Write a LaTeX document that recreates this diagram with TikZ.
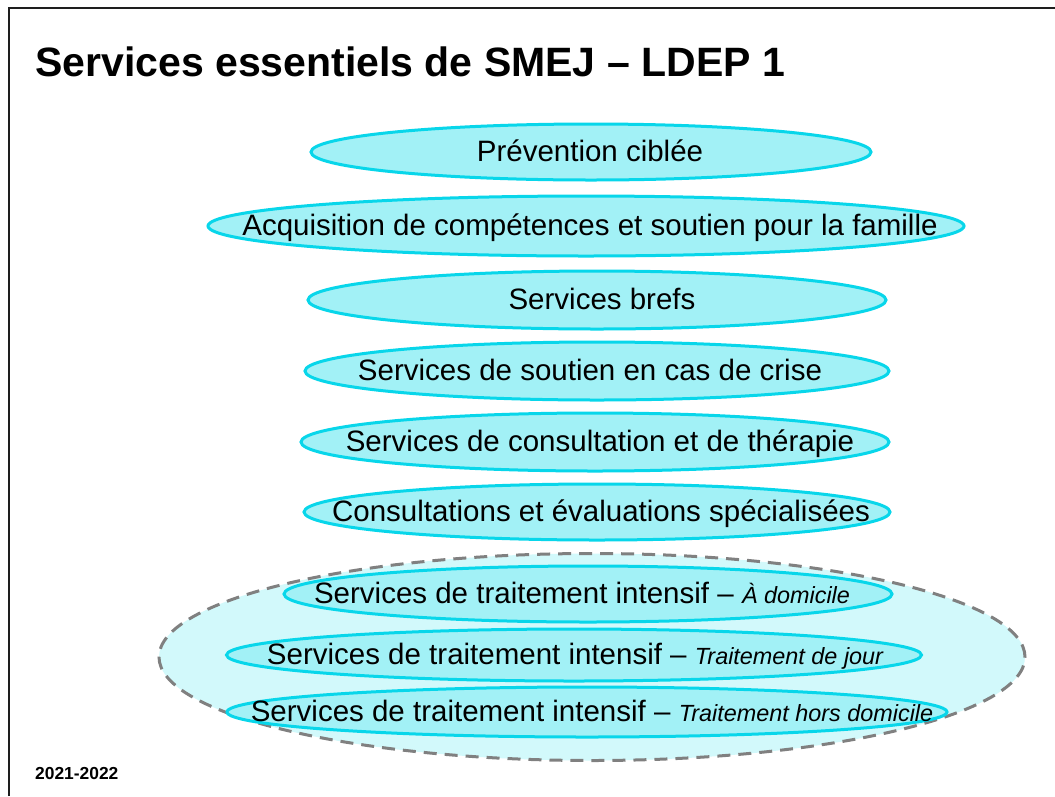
\documentclass[tikz,border=0pt]{standalone}
\usepackage{fontspec}
\setmainfont{Liberation Sans}
\usetikzlibrary{shapes.geometric}
\definecolor{cyanfill}{RGB}{162,241,246}
\definecolor{cyanline}{RGB}{8,214,234}
\definecolor{groupfill}{RGB}{210,249,251}
\definecolor{groupline}{RGB}{128,128,128}
\definecolor{frameline}{RGB}{30,30,30}
\tikzset{
  svc/.style={ellipse, draw=cyanline, fill=cyanfill, line width=3pt, inner sep=0pt},
  lbl/.style={inner sep=0pt, text height=22pt, text depth=3pt,
    font=\fontsize{29.5}{34}\selectfont},
  grp/.style={ellipse, draw=groupline, fill=groupfill, line width=3pt, dash pattern=on 13pt off 8pt, inner sep=0pt},
}
\newcommand{\subtxt}[1]{{\fontsize{23.4}{28}\selectfont\itshape #1}}
\begin{document}
\begin{tikzpicture}[x=1pt,y=-1pt]
\useasboundingbox (0,0) rectangle (1055,796);
\fill[white] (0,0) rectangle (1055,796);
% frame (cut off at right and bottom)
\coordinate (fa) at (8.5,796);
\coordinate (fb) at (8.5,7.5);
\coordinate (fc) at (1055,7.5);
\draw[frameline, line width=2pt] (fa) -- (fb) -- (fc);
% title
\node[anchor=base west, inner sep=0pt, font=\fontsize{41}{48}\selectfont\bfseries] (title) at (35,76) {Services essentiels de SMEJ – LDEP 1};
% group
\node[grp, minimum width=866pt, minimum height=207pt] (group) at (592,657) {};
% ellipses
\node[svc, minimum width=560pt, minimum height=56pt] (e1) at (591,152) {};
\node[lbl] (t1) at (590,152) {Prévention ciblée};
\node[svc, minimum width=756pt, minimum height=60pt] (e2) at (586,226) {};
\node[lbl] (t2) at (590,226) {Acquisition de compétences et soutien pour la famille};
\node[svc, minimum width=578pt, minimum height=58pt] (e3) at (597,300) {};
\node[lbl] (t3) at (602,300) {Services brefs};
\node[svc, minimum width=584pt, minimum height=58pt] (e4) at (597,371) {};
\node[lbl] (t4) at (590,371) {Services de soutien en cas de crise};
\node[svc, minimum width=588pt, minimum height=58pt] (e5) at (595,442) {};
\node[lbl] (t5) at (600,442) {Services de consultation et de thérapie};
\node[svc, minimum width=586pt, minimum height=56pt] (e6) at (597,512) {};
\node[lbl] (t6) at (601,512) {Consultations et évaluations spécialisées};
\node[svc, minimum width=608pt, minimum height=56pt] (e7) at (588,594) {};
\node[lbl] (t7) at (582,594) {Services de traitement intensif – \subtxt{À domicile}};
\node[svc, minimum width=695pt, minimum height=52pt] (e8) at (574,655) {};
\node[lbl] (t8) at (575,655) {Services de traitement intensif – \subtxt{Traitement de jour}};
\node[svc, minimum width=720pt, minimum height=50pt] (e9) at (587,712) {};
\node[lbl] (t9) at (592,712) {Services de traitement intensif – \subtxt{Traitement hors domicile}};
% year
\node[anchor=base west, inner sep=0pt, font=\fontsize{17.4}{20}\selectfont\bfseries] (year) at (35,779) {2021-2022};
\end{tikzpicture}
\end{document}
